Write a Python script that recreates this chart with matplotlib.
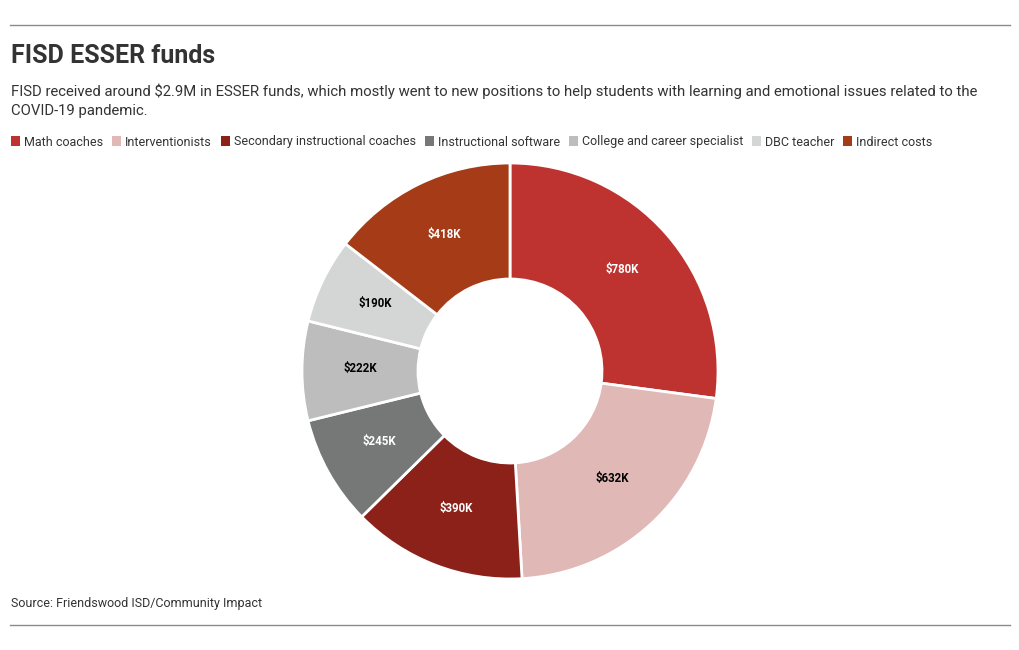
import matplotlib
matplotlib.use("Agg")
import matplotlib.pyplot as plt
from matplotlib.patches import Patch
from matplotlib.lines import Line2D
import numpy as np

categories = ["Math coaches", "Interventionists", "Secondary instructional coaches",
              "Instructional software", "College and career specialist", "DBC teacher",
              "Indirect costs"]
values = [780, 632, 390, 245, 222, 190, 418]
labels = ["$780K", "$632K", "$390K", "$245K", "$222K", "$190K", "$418K"]
colors = ["#BE3330", "#E0B8B6", "#8B2119", "#767777", "#BDBDBD", "#D4D5D5", "#A53B17"]
label_colors = ["white", "black", "white", "white", "black", "black", "white"]

plt.rcParams['font.family'] = ['Roboto', 'DejaVu Sans']

W, H = 1020, 650
fig = plt.figure(figsize=(W / 100, H / 100), dpi=100)
fig.patch.set_facecolor("white")

# rules
fig.add_artist(Line2D([10 / W, 1010 / W], [1 - 25 / H, 1 - 25 / H], color="#8a8a8a", lw=1))
fig.add_artist(Line2D([10 / W, 1010 / W], [1 - 625 / H, 1 - 625 / H], color="#8a8a8a", lw=1))

fig.text(11 / W, 1 - 56 / H, "FISD ESSER funds", fontsize=18, fontweight="bold",
         color="#333333", va="center", ha="left")
fig.text(11 / W, 1 - 91 / H,
         "FISD received around $2.9M in ESSER funds, which mostly went to new positions to help students with learning and emotional issues related to the",
         fontsize=10.7, color="#333333", va="center", ha="left")
fig.text(11 / W, 1 - 111 / H, "COVID-19 pandemic.", fontsize=10.7, color="#333333",
         va="center", ha="left")
fig.text(11 / W, 1 - 603 / H, "Source: Friendswood ISD/Community Impact", fontsize=9,
         color="#333333", va="center", ha="left")

# donut
cx, cy, R = 510, 371, 208
pad = 1.01
side = 2 * R * pad
ax = fig.add_axes([(cx - side / 2) / W, (H - cy - side / 2) / H, side / W, side / H])
wedges, _ = ax.pie(values, colors=colors, startangle=90, counterclock=False, radius=1,
                   wedgeprops=dict(width=1 - 92 / 208, edgecolor="white", linewidth=2))
total = sum(values)
ang = 90.0
for v, lab, lc in zip(values, labels, label_colors):
    mid = ang - v / total * 360 / 2
    ang -= v / total * 360
    r = 0.72
    ax.text(r * np.cos(np.radians(mid)), r * np.sin(np.radians(mid)) + 0.012, lab,
            ha="center", va="center", fontsize=8.3, fontweight="bold", color=lc)
ax.set_xlim(-pad, pad)
ax.set_ylim(-pad, pad)
ax.set_aspect("equal")
ax.axis("off")

handles = [Patch(facecolor=c, edgecolor="none") for c in colors]
fig.legend(handles, categories, loc="center left", bbox_to_anchor=(6 / W, 1 - 142 / H),
           ncol=7, frameon=False, fontsize=9.0, handlelength=0.75, handleheight=0.9,
           handletextpad=0.3, columnspacing=0.7, labelcolor="#333333", borderaxespad=0)

fig.savefig("out.png", dpi=100)
